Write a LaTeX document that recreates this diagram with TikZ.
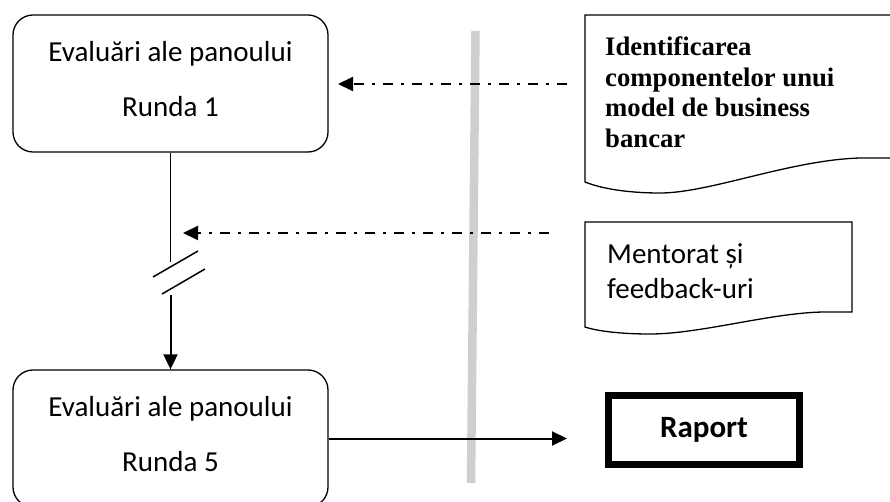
\documentclass[tikz,border=0pt]{standalone}
\usepackage{fontspec}
\setmainfont{Liberation Serif}
\newfontfamily\calibri{Carlito}
\usepackage{tikz}
\usetikzlibrary{positioning,arrows.meta}
\definecolor{divider}{RGB}{207,207,207}
\newcommand\lowpad{\rule[-9pt]{0pt}{9pt}}

\begin{document}
\begin{tikzpicture}[x=1pt,y=-1pt,
                    panel node/.style={rectangle,rounded corners=20pt,draw,line width=1.3pt,minimum width=315pt,
                      minimum height=137pt,align=center,font=\calibri\fontsize{29}{55}\selectfont},
                    report node/.style={rectangle,draw,line width=7pt,minimum width=191pt,minimum height=69pt,
                      font=\calibri\bfseries\fontsize{31}{37}\selectfont},
                    doc text/.style={anchor=north west,inner sep=0pt,align=left},
                    doc shape/.style={draw,line width=1.3pt},
                    hint/.style={-{Triangle[length=15pt,width=14pt]},line width=2pt,
                      dash pattern=on 10pt off 8.5pt on 2.5pt off 8pt},
                    flow/.style={-{Triangle[length=15pt,width=14pt]},line width=2pt}]
  \useasboundingbox (0,0) rectangle (890,502);
  \draw[line width=8.5pt,divider] (475.5,31) -- (471,483);

  \node[panel node] (1) at (170.5,83.5) {Evaluări ale panoului\\Runda 1\lowpad};
  \node[panel node] (5) at (170.5,438.5) {Evaluări ale panoului\\Runda 5\lowpad};
  \node[report node] (raport) at (704,430) {Raport};

  % documents
  \draw[doc shape] (585,15) -- (900,15) -- (900,158) -- (860,158)
    .. controls (790,160) and (710,193) .. (660,193)
    .. controls (625,193) and (600,188) .. (585,182) -- cycle;
  \node[doc text,font=\bfseries\fontsize{26.7}{30.5}\selectfont] (ident) at (605,37)
    {Identificarea\\componentelor unui\\model de business\\bancar};
  \draw[doc shape] (585,222) -- (852,222) -- (852,312) -- (823,312)
    .. controls (770,313) and (700,334) .. (650,334)
    .. controls (620,334) and (597,331) .. (585,327) -- cycle;
  \node[doc text,font=\calibri\fontsize{29}{35}\selectfont] (mentor) at (607,243.3)
    {Mentorat și\\feedback-uri};

  \coordinate (hint1) at (567,84);
  \coordinate (tip1) at (338,84);
  \coordinate (hint2) at (549,233);
  \coordinate (tip2) at (183,233);
  \coordinate (cut top) at (170.5,262);
  \coordinate (cut bot) at (170.5,295);
  \coordinate (tip3) at (567,438.5);

  \draw[hint] (hint1) -- (tip1);
  \draw[hint] (hint2) -- (tip2);
  \draw[line width=1.3pt] (1.south) -- (cut top);
  \draw[line width=1.5pt] (153,277) -- (198,251) (162,294) -- (205,269);
  \draw[flow] (cut bot) -- (5.north);
  \draw[flow] (5.east) -- (tip3);
\end{tikzpicture}
\end{document}
